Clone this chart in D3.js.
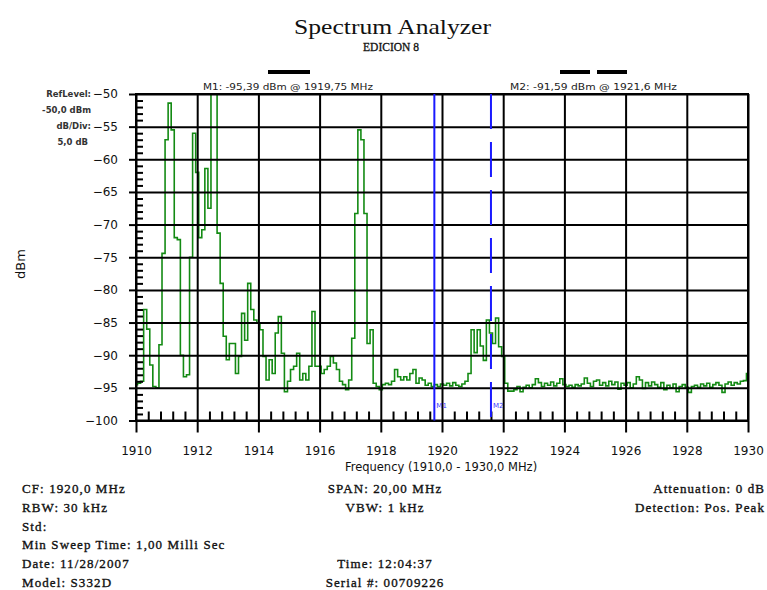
<!DOCTYPE html>
<html>
<head>
<meta charset="utf-8">
<script src="https://cdn.jsdelivr.net/npm/d3@7/dist/d3.min.js"></script>
<style>
  body { margin: 0; background: #fff; }
  .tick text { fill: #111; }
</style>
</head>
<body>
<svg id="chart" width="767" height="590"></svg>
<script>
// sweep: 1910,0 - 1930,0 MHz, one reading every 0,1 MHz
const sweepStart = 1910
const sweepStep = 0.1
const traceDbm = [
  -94.5, -94.3, -94.0, -83.0, -86.0, -91.5, -94.8, -95.0, -88.4, -74.4,
  -57.0, -51.4, -55.5, -72.0, -72.3, -90.0, -93.3, -93.0, -75.0, -56.0,
  -62.0, -72.0, -70.8, -61.4, -67.5, -49.0, -49.0, -71.3, -79.0, -87.1,
  -90.7, -88.2, -88.2, -92.8, -90.2, -83.6, -87.7, -79.0, -83.0, -84.6,
  -85.1, -86.1, -90.2, -93.8, -90.7, -92.8, -86.6, -84.1, -89.7, -95.6,
  -94.0, -92.2, -91.7, -89.7, -93.8, -92.8, -93.8, -91.7, -83.3, -91.7,
  -91.7, -92.8, -92.2, -91.7, -90.2, -91.2, -92.2, -94.0, -94.5, -95.3,
  -93.8, -87.4, -68.3, -55.5, -57.0, -68.3, -88.2, -86.1, -94.3, -94.8,
  -95.3, -94.5, -94.3, -94.5, -94.0, -92.2, -93.3, -93.8, -93.3, -93.8,
  -92.8, -92.2, -94.3, -93.5, -93.8, -94.6, -94.3, -94.8, -94.5, -94.8,
  -94.4, -94.6, -94.3, -94.7, -94.2, -94.6, -94.8, -94.4, -94.0, -92.8,
  -86.1, -89.6, -86.1, -88.6, -90.8, -84.6, -86.6, -88.2, -84.3, -88.7,
  -90.2, -94.3, -95.5, -95.5, -95.3, -94.8, -95.6, -94.9, -94.6, -95.0,
  -94.5, -93.6, -94.2, -94.8, -94.3, -94.6, -94.1, -94.7, -94.3, -93.6,
  -94.5, -94.8, -94.6, -94.9, -94.5, -94.7, -94.4, -93.5, -94.3, -94.8,
  -94.0, -93.8, -94.6, -94.2, -94.7, -94.0, -94.5, -94.1, -95.2, -94.3,
  -94.6, -94.2, -95.0, -94.4, -93.3, -93.8, -95.1, -94.2, -94.7, -94.1,
  -94.5, -94.9, -94.2, -95.3, -94.6, -95.0, -94.4, -95.6, -94.8, -94.5,
  -94.9, -95.7, -94.8, -94.6, -94.9, -94.4, -94.7, -94.3, -94.9, -94.5,
  -94.2, -94.6, -95.7, -94.4, -94.1, -94.6, -94.2, -94.4, -94.0, -93.9,
  -92.8
]

const freqTicks = [1910, 1912, 1914, 1916, 1918, 1920, 1922, 1924, 1926, 1928, 1930]
const dbmTicks = [-50, -55, -60, -65, -70, -75, -80, -85, -90, -95, -100]

const markerNames = ["M1", "M2"]
const markerFreqs = [1919.75, 1921.6]
const markerTexts = ["M1: -95,39 dBm @ 1919,75 MHz", "M2: -91,59 dBm @ 1921,6 MHz"]

const refInfo = ["RefLevel:", "-50,0 dBm", "dB/Div:", "5,0 dB"]
const infoLeft = ["CF: 1920,0 MHz", "RBW: 30 kHz", "Std:", "Min Sweep Time: 1,00 Milli Sec", "Date: 11/28/2007", "Model: S332D"]
const infoMid = ["SPAN: 20,00 MHz", "VBW: 1 kHz", "", "", "Time: 12:04:37", "Serial #: 00709226"]
const infoRight = ["Attenuation: 0 dB", "Detection: Pos. Peak"]

const svg = d3.select("#chart")
const plot = { left: 136, right: 748, top: 94, bottom: 420.5 }
const sans = "'DejaVu Sans', Verdana, sans-serif"
const serif = "'Liberation Serif', 'Times New Roman', serif"

const x = d3.scaleLinear().domain([1910, 1930]).range([plot.left, plot.right])
const y = d3.scaleLinear().domain([-100, -50]).range([plot.bottom, plot.top])

svg.append("rect").attr("width", 767).attr("height", 590).attr("fill", "#fff")

// titles
svg.append("text").attr("x", 294).attr("y", 34)
  .attr("font-family", serif).attr("font-size", 21).attr("fill", "#111")
  .attr("textLength", 197).attr("lengthAdjust", "spacingAndGlyphs")
  .text("Spectrum Analyzer")
svg.append("text").attr("x", 391).attr("y", 51).attr("text-anchor", "middle")
  .attr("font-family", serif).attr("font-size", 11.5).attr("fill", "#111")
  .attr("stroke", "#111").attr("stroke-width", 0.3)
  .text("EDICION 8")

// trace (drawn first, grid sits on top like the original)
svg.append("clipPath").attr("id", "clip").append("rect")
  .attr("x", plot.left).attr("y", plot.top)
  .attr("width", plot.right - plot.left).attr("height", plot.bottom - plot.top)

const line = d3.line()
  .x((d, i) => x(sweepStart + i * sweepStep))
  .y(d => y(d))
  .curve(d3.curveStep)

svg.append("path").datum(traceDbm)
  .attr("clip-path", "url(#clip)")
  .attr("d", line)
  .attr("fill", "none")
  .attr("stroke", "#138a13")
  .attr("stroke-width", 1.6)

// grid
svg.append("g").attr("transform", `translate(0,${plot.bottom})`)
  .call(d3.axisBottom(x).tickValues(freqTicks).tickSize(-(plot.bottom - plot.top)).tickFormat(""))
  .call(g => g.select(".domain").remove())
  .selectAll("line").attr("stroke", "#000").attr("stroke-width", 2)
svg.append("g").attr("transform", `translate(${plot.left},0)`)
  .call(d3.axisLeft(y).tickValues(dbmTicks).tickSize(-(plot.right - plot.left)).tickFormat(""))
  .call(g => g.select(".domain").remove())
  .selectAll("line").attr("stroke", "#000").attr("stroke-width", 2)

// minor ticks inside the frame
const minorFreq = d3.range(0, 50).map(i => 1910 + i * 0.4).filter(f => Math.abs(f / 2 - Math.round(f / 2)) > 0.01)
const minorDbm = d3.range(-99, -50).filter(v => v % 5 !== 0)
svg.append("g").attr("transform", `translate(0,${plot.bottom})`)
  .call(d3.axisBottom(x).tickValues(minorFreq).tickSize(-9).tickFormat(""))
  .call(g => g.select(".domain").remove())
  .selectAll("line").attr("stroke", "#000").attr("stroke-width", 2)
svg.append("g").attr("transform", `translate(${plot.left},0)`)
  .call(d3.axisLeft(y).tickValues(minorDbm).tickSize(-7).tickFormat(""))
  .call(g => g.select(".domain").remove())
  .selectAll("line").attr("stroke", "#000").attr("stroke-width", 2)

// labelled axes
const xAxis = svg.append("g").attr("transform", `translate(0,${plot.bottom})`)
  .call(d3.axisBottom(x).tickValues(freqTicks).tickSize(12).tickPadding(14).tickFormat(d3.format("d")))
xAxis.select(".domain").remove()
xAxis.selectAll("line").attr("stroke", "#000").attr("stroke-width", 2)
xAxis.selectAll("text").attr("font-family", sans).attr("font-size", 12)

const yAxis = svg.append("g").attr("transform", `translate(${plot.left},0)`)
  .call(d3.axisLeft(y).tickValues(dbmTicks).tickSize(7).tickPadding(11).tickFormat(d3.format("d")))
yAxis.select(".domain").remove()
yAxis.selectAll("line").attr("stroke", "#000").attr("stroke-width", 2)
yAxis.selectAll("text").attr("font-family", sans).attr("font-size", 12)

svg.append("rect")
  .attr("x", plot.left).attr("y", plot.top)
  .attr("width", plot.right - plot.left).attr("height", plot.bottom - plot.top)
  .attr("fill", "none").attr("stroke", "#000").attr("stroke-width", 2)

// markers
markerFreqs.forEach((f, i) => {
  svg.append("line")
    .attr("x1", x(f)).attr("x2", x(f))
    .attr("y1", plot.top).attr("y2", plot.bottom)
    .attr("stroke", "#1a1aff").attr("stroke-width", 2)
    .attr("stroke-dasharray", i === 1 ? "35,13" : null)
  svg.append("text")
    .attr("x", x(f) + 2).attr("y", plot.bottom - 13)
    .attr("font-family", sans).attr("font-size", 7).attr("fill", "#3a3aff")
    .text(markerNames[i])
})

svg.append("text").attr("x", 203).attr("y", 90)
  .attr("font-family", sans).attr("font-size", 9.5).attr("fill", "#222")
  .attr("textLength", 170).attr("lengthAdjust", "spacingAndGlyphs")
  .text(markerTexts[0])
svg.append("text").attr("x", 510).attr("y", 90)
  .attr("font-family", sans).attr("font-size", 9.5).attr("fill", "#222")
  .attr("textLength", 167).attr("lengthAdjust", "spacingAndGlyphs")
  .text(markerTexts[1])
svg.append("rect").attr("x", 268).attr("y", 70).attr("width", 42).attr("height", 4).attr("fill", "#000")
svg.append("rect").attr("x", 560).attr("y", 70).attr("width", 30).attr("height", 4).attr("fill", "#000")
svg.append("rect").attr("x", 597).attr("y", 70).attr("width", 30).attr("height", 4).attr("fill", "#000")

// ref level block
svg.selectAll(".ref").data(refInfo).enter().append("text")
  .attr("class", "ref")
  .attr("x", (d, i) => i === 3 ? 88 : 91)
  .attr("y", (d, i) => 97 + i * 16)
  .attr("text-anchor", "end")
  .attr("font-family", sans).attr("font-size", 8.5).attr("font-weight", "bold").attr("fill", "#333")
  .text(d => d)

// y title
svg.append("text")
  .attr("transform", "translate(25,264) rotate(-90)")
  .attr("text-anchor", "middle")
  .attr("font-family", sans).attr("font-size", 13).attr("fill", "#111")
  .text("dBm")

// x title
svg.append("text").attr("x", 441).attr("y", 471).attr("text-anchor", "middle")
  .attr("font-family", sans).attr("font-size", 11.5).attr("fill", "#111")
  .text("Frequency (1910,0 - 1930,0 MHz)")

// instrument settings
const infoFont = (sel) => sel.attr("font-family", serif).attr("font-size", 13)
  .attr("letter-spacing", 1.1)
  .attr("fill", "#111").attr("stroke", "#111").attr("stroke-width", 0.35)
const infoBlock = (texts, x0, anchor) => {
  texts.forEach((t, i) => {
    if (!t) return
    svg.append("text")
      .attr("x", x0).attr("y", 493 + i * 18.8)
      .attr("text-anchor", anchor)
      .call(infoFont).text(t)
  })
}
infoBlock(infoLeft, 22, "start")
infoBlock(infoMid, 385, "middle")
infoBlock(infoRight, 765, "end")
</script>
</body>
</html>
